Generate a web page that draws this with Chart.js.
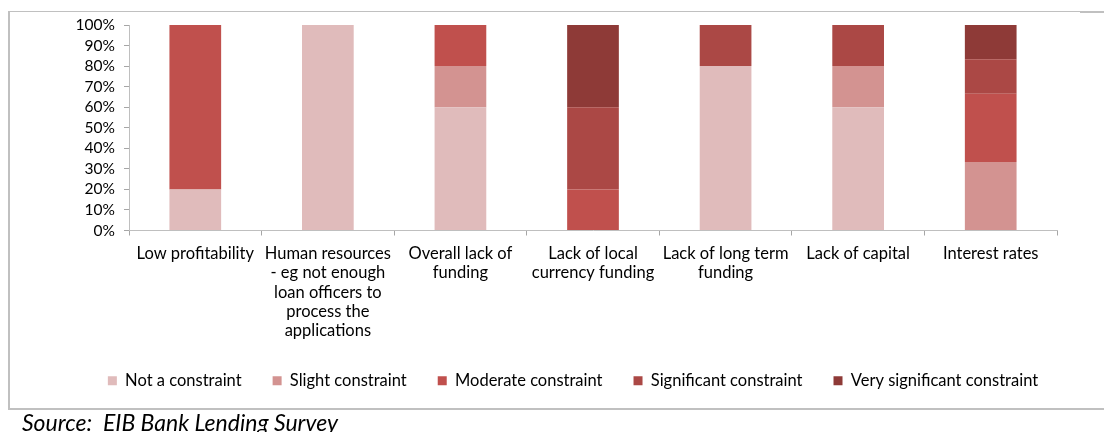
<!DOCTYPE html>
<html>
<head>
<meta charset="utf-8">
<script src="https://cdn.jsdelivr.net/npm/chart.js@4.4.1/dist/chart.umd.min.js"></script>
<style>
  html, body { margin: 0; padding: 0; background: #fff; width: 1104px; height: 432px; overflow: hidden; }
  #wrap { position: absolute; left: 0; top: 0; width: 1104px; height: 409px; }
  #frameLeft { position: absolute; left: 8px; top: 11px; width: 2px; height: 398px; background: #c0c0c0; }
  #frameTop { position: absolute; left: 8px; top: 11px; width: 1072px; height: 1px; background: #c0c0c0; }
  #frameTopR { position: absolute; left: 1080px; top: 11px; width: 24px; height: 2px; background: #c0c0c0; }
  #frameBottom { position: absolute; left: 8px; top: 408px; width: 1096px; height: 2px; background: #c0c0c0; }
  #source { position: absolute; left: 22px; top: 411px; font-family: Lato, "Open Sans", sans-serif; font-style: italic; font-size: 23px; line-height: 23px; color: #000; white-space: pre; }
</style>
</head>
<body>
<div id="wrap"><canvas id="c" width="1104" height="409"></canvas></div>
<div id="frameLeft"></div>
<div id="frameTop"></div>
<div id="frameTopR"></div>
<div id="frameBottom"></div>
<div id="source">Source:  EIB Bank Lending Survey</div>
<script>
const categories = [
  "Low profitability",
  ["Human resources", "- eg not enough", "loan officers to", "process the", "applications"],
  ["Overall lack of", "funding"],
  ["Lack of local", "currency funding"],
  ["Lack of long term", "funding"],
  "Lack of capital",
  "Interest rates"
];
const seriesNames = ["Not a constraint", "Slight constraint", "Moderate constraint", "Significant constraint", "Very significant constraint"];
const notAConstraint        = [20, 100, 60, 0, 80, 60, 0];
const slightConstraint      = [0, 0, 20, 0, 0, 20, 33.3];
const moderateConstraint    = [80, 0, 20, 20, 0, 0, 33.3];
const significantConstraint = [0, 0, 0, 40, 20, 20, 16.7];
const verySignificant       = [0, 0, 0, 40, 0, 0, 16.7];
const yTicks = [0, 10, 20, 30, 40, 50, 60, 70, 80, 90, 100];

const colors = ["#E0BBBB", "#D39391", "#C0504D", "#AB4845", "#8E3A37"];
const values = [notAConstraint, slightConstraint, moderateConstraint, significantConstraint, verySignificant];

const FONT = "Lato, 'Open Sans', sans-serif";
const datasets = seriesNames.map((n, i) => ({
  label: n,
  data: values[i],
  backgroundColor: colors[i],
  borderWidth: 0,
  barPercentage: 0.39,
  categoryPercentage: 1.0
}));

new Chart(document.getElementById('c'), {
  type: 'bar',
  data: { labels: categories, datasets: datasets },
  options: {
    responsive: false,
    animation: false,
    layout: { padding: { left: 42, right: 0, top: 25, bottom: 10 } },
    plugins: {
      tooltip: { enabled: false },
      legend: {
        position: 'bottom',
        labels: {
          boxWidth: 9, boxHeight: 9, padding: 31,
          color: '#000',
          font: { family: FONT, size: 16.5 }
        }
      }
    },
    scales: {
      x: {
        stacked: true,
        offset: true,
        grid: { display: true, drawOnChartArea: false, offset: true, tickLength: 5, color: '#a6a6a6' },
        border: { display: true, color: '#bfbfbf', width: 1 },
        ticks: { color: '#000', font: { family: FONT, size: 16.5, lineHeight: 1.18 }, padding: 8, maxRotation: 0, autoSkip: false },
        afterFit: (s) => { s.height = 111; }
      },
      y: {
        stacked: true,
        min: 0, max: 100,
        afterBuildTicks: (s) => { s.ticks = yTicks.map(v => ({ value: v })); },
        grid: { display: true, drawOnChartArea: false, tickLength: 5, color: '#a6a6a6' },
        border: { display: true, color: '#bfbfbf', width: 1 },
        ticks: { color: '#000', font: { family: FONT, size: 15.5, lineHeight: 1.0 }, padding: 9, autoSkip: false, callback: (v) => v + '%' },
        afterFit: (s) => { s.width = 87; }
      },
      yRight: {
        position: 'right',
        display: true,
        min: 0, max: 100,
        grid: { display: false },
        border: { display: false },
        ticks: { display: false },
        afterFit: (s) => { s.width = 47; }
      }
    }
  }
});
</script>
</body>
</html>
